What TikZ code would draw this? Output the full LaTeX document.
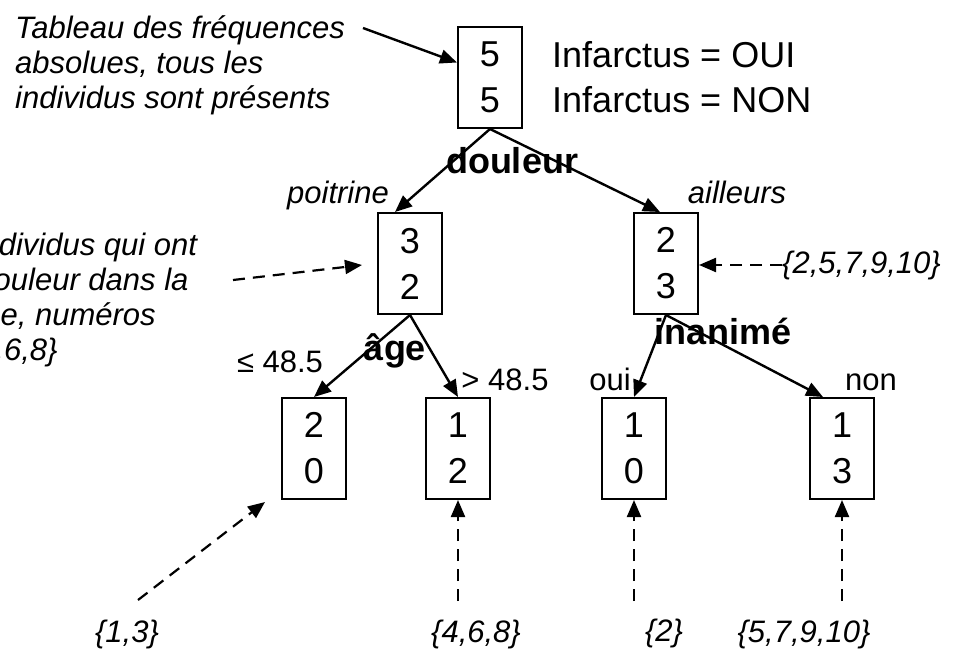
\documentclass[tikz,border=0pt]{standalone}
\usepackage{fontspec}
\setmainfont{Liberation Sans}
\usetikzlibrary{arrows.meta,calc}
\tikzset{
  box/.style={draw, line width=2pt, minimum width=64pt, minimum height=101pt, inner sep=0pt, align=center, font=\fontsize{36}{46}\selectfont},
  arr/.style={line width=2.4pt, -{Triangle[length=17pt,width=14pt]}},
  darr/.style={arr, line width=2.2pt, dash pattern=on 12pt off 8pt},
  it/.style={font=\fontsize{31}{35}\selectfont\itshape, inner sep=0pt},
  rg/.style={font=\fontsize{31}{35}\selectfont, inner sep=0pt},
  bd/.style={font=\fontsize{36}{41}\selectfont\bfseries, inner sep=0pt},
  big/.style={font=\fontsize{36}{45}\selectfont, inner sep=0pt},
}
\begin{document}
\begin{tikzpicture}[x=1pt,y=-1pt]
\path[use as bounding box] (0,0) rectangle (961,657);
\clip (0,0) rectangle (961,657);
\fill[white] (0,0) rectangle (961,657);
% boxes
\node[box] (root) at (490,77.5) {5\\5};
\node[box] (pl) at (410,263.5) {3\\2};
\node[box] (pr) at (666,263.5) {2\\3};
\node[box] (a) at (314,448.5) {2\\0};
\node[box] (b) at (458,448.5) {1\\2};
\node[box] (c) at (634,448.5) {1\\0};
\node[box] (d) at (842,448.5) {1\\3};
% legend and notes
\node[big, align=left, anchor=west] (leg) at (552,77) {Infarctus = OUI\\Infarctus = NON};
\node[it, align=left, anchor=west] (tab) at (15,65.5) {Tableau des fréquences\\absolues, tous les\\individus sont présents};
\node[it, align=left, anchor=west] (note) at (-84,299.5) {Les individus qui ont\\une douleur dans la\\poitrine, numéros\\\{1,3,4,6,8\}};
% labels
\node[bd, anchor=base] (vdoul) at (512,173) {douleur};
\node[it, anchor=base] (vpoi) at (338,203) {poitrine};
\node[it, anchor=base] (vail) at (737,203) {ailleurs};
\node[it, anchor=base west] (s2) at (782,273) {\{2,5,7,9,10\}};
\node[bd, anchor=base] (vina) at (723,344) {inanimé};
\node[rg, anchor=base] (voui) at (610,390) {oui};
\node[rg, anchor=base] (vnon) at (871,390) {non};
\node[rg, anchor=base] (vle) at (280,372) {≤ 48.5};
\node[bd, anchor=base] (vage) at (395,360) {âge};
\node[rg, anchor=base] (vgt) at (505,390) {> 48.5};
\node[it, anchor=base] (sa) at (127,642) {\{1,3\}};
\node[it, anchor=base] (sb) at (476,642) {\{4,6,8\}};
\node[it, anchor=base] (sc) at (664,641) {\{2\}};
\node[it, anchor=base] (sd) at (804,642) {\{5,7,9,10\}};
% tree edges
\draw[arr] (root.south) -- ($(pl.north)+(-15,0)$);
\draw[arr] (root.south) -- ($(pr.north)+(-6,0)$);
\draw[arr] (pl.south) -- (a.north);
\draw[arr] (pl.south) -- (b.north);
\draw[arr] (pr.south) -- (c.north);
\draw[arr] (pr.south) -- ($(d.north)+(-19,0)$);
% annotation arrows
\coordinate (tabend) at (363,28);
\draw[arr] (tabend) -- ($(root.west)+(0,-15)$);
\coordinate (n1) at (233,280);
\coordinate (n2) at (362,265);
\draw[darr] (n1) -- (n2);
\draw[darr] (s2.west) -- (s2.west -| pr.east);
\coordinate (q1) at (138,600);
\coordinate (q1t) at (265,502);
\draw[darr] (q1) -- (q1t);
\draw[darr] ($(b.south)+(0,101)$) -- (b.south);
\draw[darr] ($(c.south)+(0,101)$) -- (c.south);
\draw[darr] ($(d.south)+(0,101)$) -- (d.south);
\end{tikzpicture}
\end{document}
